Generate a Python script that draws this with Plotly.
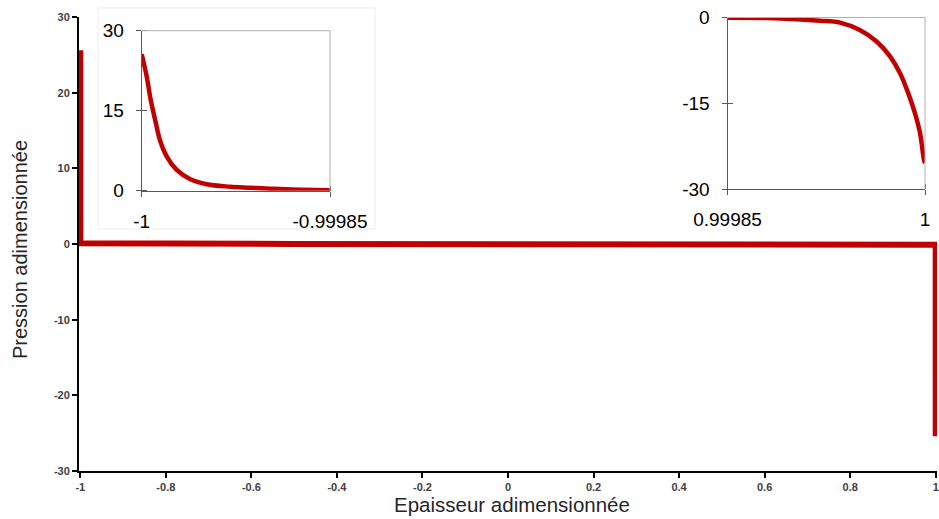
import plotly.graph_objects as go

# ---- data ----
# left inset: pressure near x = -1
left_x = [-1.0, -0.9999960, -0.9999928, -0.9999893, -0.9999855,
          -0.9999800, -0.9999721, -0.9999616, -0.9999482, -0.9999296,
          -0.9999138, -0.9998950, -0.9998725, -0.99985]
left_y = [25.6, 21.4, 17.0, 13.3, 9.5, 6.4, 3.9, 2.2, 1.2, 0.75,
          0.56, 0.35, 0.2, 0.1]

# right inset: pressure near x = +1
right_x = [0.99985, 0.99988, 0.9999025, 0.9999202, 0.9999355, 0.9999505,
           0.99996325, 0.99997345, 0.99998095, 0.99998725, 0.99999235,
           0.99999625, 0.99999925, 1.0]
right_y = [-0.05, -0.1, -0.3, -0.56, -0.9, -2.2, -4.2, -6.8, -9.7,
           -13.2, -16.7, -20.2, -24.9, -25.4]

# middle of the main curve
mid_x = [-0.5, 0.0, 0.5]
mid_y = [0.0, 0.0, 0.0]

main_x = left_x + mid_x + right_x
main_y = left_y + mid_y + right_y

main_xticks = [-1, -0.8, -0.6, -0.4, -0.2, 0, 0.2, 0.4, 0.6, 0.8, 1]
main_xticktext = ["-1", "-0.8", "-0.6", "-0.4", "-0.2", "0", "0.2", "0.4", "0.6", "0.8", "1"]
main_yticks = [-30, -20, -10, 0, 10, 20, 30]
main_yticktext = ["-30", "-20", "-10", "0", "10", "20", "30"]

left_xticks = [-1, -0.99985]
left_xticktext = ["-1", "-0.99985"]
left_yticks = [0, 15, 30]
left_yticktext = ["0", "15", "30"]

right_xticks = [0.99985, 1]
right_xticktext = ["0.99985", "1"]
right_yticks = [-30, -15, 0]
right_yticktext = ["-30", "-15", "0"]

# ---- layout geometry ----
W, H = 939, 519
ML, MR, MT, MB = 79, 2, 17, 48
PW, PH = W - ML - MR, H - MT - MB


def px_x(p):
    return (p - ML) / PW


def px_y(p):
    return (H - MB - p) / PH


RED = "#C00000"
FONT = "Liberation Sans, Arial, sans-serif"

fig = go.Figure()

fig.add_trace(go.Scatter(x=main_x, y=main_y, mode="lines",
                         line=dict(color=RED, width=6), xaxis="x", yaxis="y",
                         showlegend=False, hoverinfo="skip"))
fig.add_trace(go.Scatter(x=left_x, y=left_y, mode="lines",
                         line=dict(color=RED, width=4.5, shape="spline", smoothing=1),
                         xaxis="x2", yaxis="y2", showlegend=False))
fig.add_trace(go.Scatter(x=right_x, y=right_y, mode="lines",
                         line=dict(color=RED, width=4.5, shape="spline", smoothing=1),
                         xaxis="x3", yaxis="y3", showlegend=False))

main_tick_font = dict(family=FONT, size=11, color="#404040", weight="bold")
inset_tick_font = dict(family=FONT, size=19, color="#000000")
inset_axis = dict(showline=True, linecolor="#595959", linewidth=1,
                  ticks="outside", ticklen=5, tickcolor="#595959", tickwidth=1,
                  showgrid=False, zeroline=False, tickfont=inset_tick_font,
                  ticklabelstandoff=8, automargin=False)

fig.update_layout(
    width=W, height=H,
    margin=dict(l=ML, r=MR, t=MT, b=MB, pad=0, autoexpand=False),
    paper_bgcolor="white", plot_bgcolor="white",
    showlegend=False,
    xaxis=dict(domain=[0, 1], range=[-1.003, 1.003], tickmode="array",
               tickvals=main_xticks, ticktext=main_xticktext,
               showline=True, linecolor="black", linewidth=2,
               ticks="outside", ticklen=5, tickwidth=2, tickcolor="black",
               showgrid=False, zeroline=False, tickfont=main_tick_font,
               anchor="y", automargin=False),
    yaxis=dict(domain=[0, 1], range=[-30, 30], tickmode="array",
               tickvals=main_yticks, ticktext=main_yticktext,
               showline=True, linecolor="black", linewidth=2,
               ticks="outside", ticklen=5, tickwidth=2, tickcolor="black",
               showgrid=False, zeroline=False, tickfont=main_tick_font,
               anchor="x", automargin=False),
    xaxis2=dict(inset_axis, domain=[px_x(141.7), px_x(330)],
                range=[-1.0, -0.99985], tickmode="array",
                tickvals=left_xticks, ticktext=left_xticktext, anchor="y2",
                minor=dict(tickvals=left_xticks, ticks="inside", ticklen=5,
                           tickcolor="#595959", tickwidth=1)),
    yaxis2=dict(inset_axis, domain=[px_y(190.7), px_y(30.7)],
                range=[0, 30], tickmode="array",
                tickvals=left_yticks, ticktext=left_yticktext, anchor="x2",
                minor=dict(tickvals=left_yticks, ticks="inside", ticklen=5,
                           tickcolor="#595959", tickwidth=1)),
    xaxis3=dict(inset_axis, domain=[px_x(727.5), px_x(925)],
                range=[0.99985, 1.0], tickmode="array",
                tickvals=right_xticks, ticktext=right_xticktext, anchor="y3",
                minor=dict(tickvals=right_xticks, ticks="inside", ticklen=5,
                           tickcolor="#595959", tickwidth=1)),
    yaxis3=dict(inset_axis, domain=[px_y(189.3), px_y(17.5)],
                range=[-30, 0], tickmode="array",
                tickvals=right_yticks, ticktext=right_yticktext, anchor="x3",
                minor=dict(tickvals=right_yticks, ticks="inside", ticklen=5,
                           tickcolor="#595959", tickwidth=1)),
)

shapes = [
    # white box behind the left inset
    dict(type="rect", xref="paper", yref="paper",
         x0=px_x(98), x1=px_x(375), y0=px_y(229), y1=px_y(8),
         fillcolor="white", line=dict(color="#ececec", width=1), layer="below"),
    # light top/right frame lines of the insets
    dict(type="line", xref="x2 domain", yref="y2 domain", x0=0, x1=1, y0=1, y1=1,
         line=dict(color="#b0b0b0", width=1)),
    dict(type="line", xref="x2 domain", yref="y2 domain", x0=1, x1=1, y0=0, y1=1,
         line=dict(color="#b0b0b0", width=1)),
    dict(type="line", xref="x3 domain", yref="y3 domain", x0=0, x1=1, y0=1, y1=1,
         line=dict(color="#b0b0b0", width=1)),
    dict(type="line", xref="x3 domain", yref="y3 domain", x0=1, x1=1, y0=0, y1=1,
         line=dict(color="#b0b0b0", width=1)),
]
fig.update_layout(shapes=shapes)

fig.add_annotation(text="Epaisseur adimensionnée", xref="paper", yref="paper",
                   x=px_x(512), y=px_y(505), showarrow=False,
                   xanchor="center", yanchor="middle",
                   font=dict(family=FONT, size=20.5, color="#262626"))
fig.add_annotation(text="Pression adimensionnée", xref="paper", yref="paper",
                   x=px_x(20), y=px_y(250), showarrow=False, textangle=-90,
                   xanchor="center", yanchor="middle",
                   font=dict(family=FONT, size=20, color="#262626"))

fig.write_html("out.html")
